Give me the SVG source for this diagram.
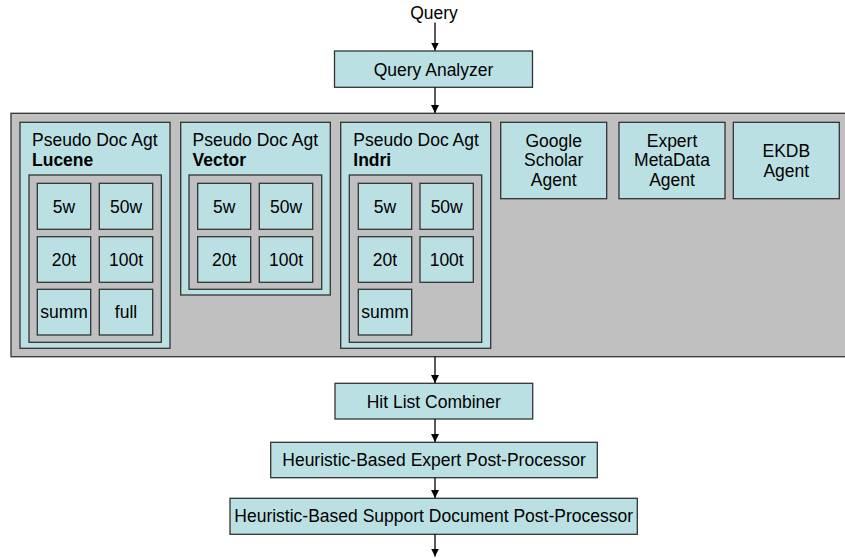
<svg xmlns="http://www.w3.org/2000/svg" width="845" height="558" viewBox="0 0 845 558">
  <style>
    text { font-family: "Liberation Sans", Arial, sans-serif; font-size: 17.5px; fill: #000; }
    .c { text-anchor: middle; }
    .b { font-weight: bold; }
    .box { fill: #BBE0E3; stroke: #333; stroke-width: 1.3; }
    .well { fill: #C0C0C0; stroke: #333; stroke-width: 1.3; }
    .conn line { stroke: #000; stroke-width: 1.3; marker-end: url(#arrow); }
  </style>
  <defs>
    <marker id="arrow" viewBox="0 0 10 10" refX="10" refY="5" markerWidth="8" markerHeight="8" markerUnits="userSpaceOnUse" orient="auto">
      <path d="M0,0 L10,5 L0,10 z" fill="#000"/>
    </marker>
  </defs>
  <rect width="845" height="558" fill="#fff"/>

  <g id="query">
    <text class="c" x="434" y="18.5">Query</text>
  </g>

  <g id="query-analyzer">
    <rect class="box" x="334.5" y="51" width="198" height="36.3"/>
    <text class="c" x="433.5" y="75.5">Query Analyzer</text>
  </g>

  <!-- agent area -->
  <g id="agent-pool">
    <rect class="well" x="11" y="113.3" width="850" height="243.4"/>
  </g>

  <g id="lucene-agent">
    <rect class="box" x="20" y="122.3" width="150" height="226"/>
    <text x="32" y="146.2">Pseudo Doc Agt</text>
    <text class="b" x="32" y="165.8">Lucene</text>
    <rect class="well" x="29" y="175" width="132.3" height="167.3"/>
    <rect class="box" x="37.3" y="183.3" width="53.4" height="46"/>
    <rect class="box" x="99.3" y="183.3" width="53.4" height="46"/>
    <rect class="box" x="37.3" y="236.7" width="53.4" height="45.6"/>
    <rect class="box" x="99.3" y="236.7" width="53.4" height="45.6"/>
    <rect class="box" x="37.3" y="289.3" width="53.4" height="45.7"/>
    <rect class="box" x="99.3" y="289.3" width="53.4" height="45.7"/>
    <text class="c" x="64" y="212.5">5w</text>
    <text class="c" x="126" y="212.5">50w</text>
    <text class="c" x="64" y="265.6">20t</text>
    <text class="c" x="126" y="265.6">100t</text>
    <text class="c" x="64" y="318.3">summ</text>
    <text class="c" x="126" y="318.3">full</text>
  </g>

  <g id="vector-agent">
    <rect class="box" x="180.7" y="122.3" width="149.6" height="172.7"/>
    <text x="192.5" y="146.2">Pseudo Doc Agt</text>
    <text class="b" x="192.5" y="165.8">Vector</text>
    <rect class="well" x="189" y="175" width="132.7" height="114.3"/>
    <rect class="box" x="197.7" y="183.3" width="53" height="46"/>
    <rect class="box" x="259.3" y="183.3" width="53.4" height="46"/>
    <rect class="box" x="197.7" y="236.7" width="53" height="45.6"/>
    <rect class="box" x="259.3" y="236.7" width="53.4" height="45.6"/>
    <text class="c" x="224.2" y="212.5">5w</text>
    <text class="c" x="286" y="212.5">50w</text>
    <text class="c" x="224.2" y="265.6">20t</text>
    <text class="c" x="286" y="265.6">100t</text>
  </g>

  <g id="indri-agent">
    <rect class="box" x="340.7" y="122.3" width="150" height="226"/>
    <text x="353.3" y="146.2">Pseudo Doc Agt</text>
    <text class="b" x="353.3" y="165.8">Indri</text>
    <rect class="well" x="349.3" y="175" width="132.4" height="167.3"/>
    <rect class="box" x="358.3" y="183.3" width="53.4" height="46"/>
    <rect class="box" x="420" y="183.3" width="53.3" height="46"/>
    <rect class="box" x="358.3" y="236.7" width="53.4" height="45.6"/>
    <rect class="box" x="420" y="236.7" width="53.3" height="45.6"/>
    <rect class="box" x="358.3" y="289.3" width="53.4" height="45.7"/>
    <text class="c" x="385" y="212.5">5w</text>
    <text class="c" x="446.7" y="212.5">50w</text>
    <text class="c" x="385" y="265.6">20t</text>
    <text class="c" x="446.7" y="265.6">100t</text>
    <text class="c" x="385" y="318.3">summ</text>
  </g>

  <g id="google-scholar-agent">
    <rect class="box" x="500.7" y="122.3" width="106" height="76.4"/>
    <text class="c"><tspan x="553.7" y="146.5">Google</tspan><tspan x="553.7" y="166">Scholar</tspan><tspan x="553.7" y="185.5">Agent</tspan></text>
  </g>

  <g id="expert-metadata-agent">
    <rect class="box" x="619" y="122.3" width="106" height="76.4"/>
    <text class="c"><tspan x="672" y="146.5">Expert</tspan><tspan x="672" y="166">MetaData</tspan><tspan x="672" y="185.5">Agent</tspan></text>
  </g>

  <g id="ekdb-agent">
    <rect class="box" x="733.3" y="122.3" width="106" height="76.4"/>
    <text class="c"><tspan x="786.3" y="156.5">EKDB</tspan><tspan x="786.3" y="176.5">Agent</tspan></text>
  </g>

  <g id="hit-list-combiner">
    <rect class="box" x="335" y="383.3" width="197.7" height="35.7"/>
    <text class="c" x="433.8" y="407.5">Hit List Combiner</text>
  </g>

  <g id="expert-post-processor">
    <rect class="box" x="270.7" y="442.3" width="326.6" height="35.4"/>
    <text class="c" x="434" y="466">Heuristic-Based Expert Post-Processor</text>
  </g>

  <g id="support-post-processor">
    <rect class="box" x="230" y="498.3" width="407.3" height="36"/>
    <text class="c" x="433.7" y="522.3">Heuristic-Based Support Document Post-Processor</text>
  </g>

  <g class="conn" id="connectors">
    <line x1="435" y1="22.5" x2="435" y2="50.5"/>
    <line x1="435" y1="87.3" x2="435" y2="113"/>
    <line x1="435" y1="356.7" x2="435" y2="383"/>
    <line x1="435" y1="419" x2="435" y2="442"/>
    <line x1="435" y1="477.7" x2="435" y2="498"/>
    <line x1="435" y1="534.3" x2="435" y2="556.5"/>
  </g>
</svg>
